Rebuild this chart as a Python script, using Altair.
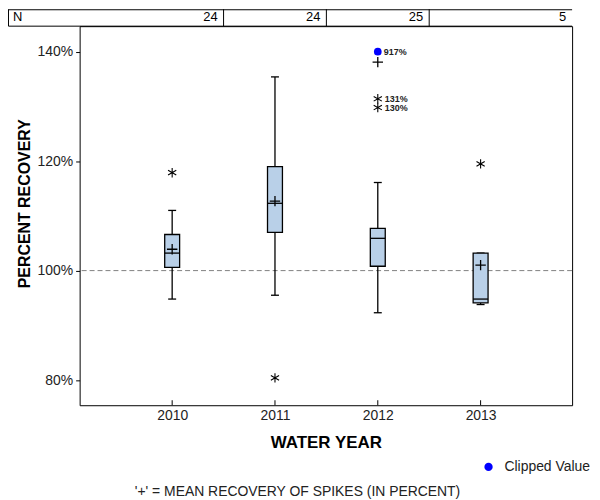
import altair as alt
import pandas as pd

# ---- data ----
years = [2010, 2011, 2012, 2013]
n_counts = [24, 24, 25, 5]
q1 = [100.6, 107.0, 100.8, 94.1]
median = [103.2, 112.3, 105.9, 94.8]
q3 = [106.6, 119.0, 107.7, 103.2]
whisk_lo = [94.8, 95.5, 92.3, 93.8]
whisk_hi = [111.0, 135.4, 116.1, 103.2]
means = [103.9, 112.7, 138.1, 101.0]

out_years = [2010, 2011, 2012, 2012, 2013]
out_values = [117.9, 80.4, 131.4, 129.8, 119.5]
out_labels = ["", "", "131%", "130%", ""]

clip_years = [2012]
clip_values = [140.0]
clip_labels = ["917%"]

y_ticks = [80, 100, 120, 140]
ref_value = [100]

XMIN, XMAX = 2009.1, 2013.89
YMIN, YMAX = 75.4, 144.67
W, H = 495, 381
FONT = "Liberation Sans"

box_df = pd.DataFrame({"year": years, "n": n_counts, "q1": q1, "median": median,
                       "q3": q3, "lo": whisk_lo, "hi": whisk_hi, "mean": means})
out_df = pd.DataFrame({"year": out_years, "v": out_values, "label": out_labels})
clip_df = pd.DataFrame({"year": clip_years, "v": clip_values, "label": clip_labels,
                        "kind": ["Clipped Value"]})
ref_df = pd.DataFrame({"v": ref_value})
cell_df = pd.DataFrame({"right": [y + 0.5 for y in years[:-1]] + [XMAX],
                        "n": [str(v) for v in n_counts]})
div_df = pd.DataFrame({"right": [y + 0.5 for y in years[:-1]]})

xscale = alt.Scale(domain=[XMIN, XMAX], nice=False, zero=False)
yscale = alt.Scale(domain=[YMIN, YMAX], nice=False, zero=False)
xaxis = alt.Axis(values=years, format="d", ticks=False, grid=False, domain=False,
                 labelFont=FONT, labelFontSize=14, labelColor="#222", labelPadding=3,
                 title="WATER YEAR", titleFont=FONT, titleFontSize=17,
                 titleFontWeight="bold", titleColor="black", titlePadding=12)
yaxis = alt.Axis(values=y_ticks, labelExpr="datum.value + '%'", grid=False, domain=False,
                 tickSize=4, tickColor="black", labelFont=FONT, labelFontSize=14,
                 labelColor="#222", labelPadding=3,
                 title="PERCENT RECOVERY", titleFont=FONT, titleFontSize=16,
                 titleFontWeight="bold", titleColor="black", titlePadding=5, titleY=178)


def X(f):
    return alt.X(f"{f}:Q", scale=xscale, axis=xaxis)


def Y(f):
    return alt.Y(f"{f}:Q", scale=yscale, axis=yaxis)


base = alt.Chart(box_df)
SW = 1.3

ref = alt.Chart(ref_df).mark_rule(color="#808080", strokeDash=[5, 3], strokeWidth=1).encode(
    y=Y("v"))

wlo = base.mark_rule(color="black", strokeWidth=SW).encode(x=X("year"), y=Y("lo"), y2="q1")
whi = base.mark_rule(color="black", strokeWidth=SW).encode(x=X("year"), y=Y("q3"), y2="hi")
cap_lo = base.mark_rule(color="black", strokeWidth=SW, xOffset=-4, x2Offset=4).encode(
    x=X("year"), x2="year", y=Y("lo"))
cap_hi = base.mark_rule(color="black", strokeWidth=SW, xOffset=-4, x2Offset=4).encode(
    x=X("year"), x2="year", y=Y("hi"))
box = base.mark_rect(fill="#b9d0e8", stroke="black", strokeWidth=SW,
                     xOffset=-7.5, x2Offset=7.5).encode(
    x=X("year"), x2="year", y=Y("q1"), y2="q3")
med = base.mark_rule(color="black", strokeWidth=SW, xOffset=-7.5, x2Offset=7.5).encode(
    x=X("year"), x2="year", y=Y("median"))
mean_pt = base.mark_point(shape="M-1,0L1,0M0,-1L0,1", size=110, color="black",
                          strokeWidth=SW, filled=False, opacity=1).encode(
    x=X("year"), y=Y("mean"))

outs = alt.Chart(out_df).mark_point(
    shape="M0,-1L0,1M-0.87,-0.5L0.87,0.5M-0.87,0.5L0.87,-0.5",
    size=90, color="black", strokeWidth=1.1, filled=False, opacity=1).encode(
    x=X("year"), y=Y("v"))
out_txt = alt.Chart(out_df).mark_text(align="left", dx=7, fontSize=9, font=FONT,
                                      fontWeight="bold", color="#222").encode(
    x=X("year"), y=Y("v"), text="label:N")

clip = alt.Chart(clip_df).mark_point(shape="circle", size=60, filled=True, opacity=1).encode(
    x=X("year"), y=Y("v"),
    color=alt.Color("kind:N", scale=alt.Scale(domain=["Clipped Value"], range=["#0000ff"]),
                    legend=alt.Legend(title=None, orient="none", legendX=404, legendY=436,
                                      labelFont=FONT, labelFontSize=14, labelColor="#222",
                                      symbolSize=70, symbolType="circle", labelOffset=9)))
clip_txt = alt.Chart(clip_df).mark_text(align="left", dx=6, fontSize=9, font=FONT,
                                        fontWeight="bold", color="#222").encode(
    x=X("year"), y=Y("v"), text="label:N")

# ---- N table above the plot ----
tbl_top = alt.Chart(ref_df).mark_rule(color="black", strokeWidth=1).encode(
    x=alt.value(-71.5), x2=alt.value(W), y=alt.value(-16.5))
tbl_left = alt.Chart(ref_df).mark_rule(color="black", strokeWidth=1).encode(
    x=alt.value(-71.5), y=alt.value(-17), y2=alt.value(0))
tbl_bottom = alt.Chart(ref_df).mark_rule(color="black", strokeWidth=1).encode(
    x=alt.value(-71.5), x2=alt.value(W), y=alt.value(0))
tbl_div = alt.Chart(div_df).mark_rule(color="black", strokeWidth=1).encode(
    x=X("right"), y=alt.value(-17), y2=alt.value(0))
tbl_n = alt.Chart(ref_df).mark_text(align="left", baseline="middle", fontSize=13, font=FONT,
                                    color="black").encode(
    x=alt.value(-67), y=alt.value(-9), text=alt.value("N"))
tbl_txt = alt.Chart(cell_df).mark_text(align="right", baseline="middle", dx=-6, fontSize=13,
                                       font=FONT, color="black").encode(
    x=X("right"), y=alt.value(-9), text="n:N")

# ---- x ticks pointing inward ----
xt = base.mark_rule(color="black", strokeWidth=1).encode(
    x=X("year"), y=alt.value(H), y2=alt.value(H - 5))

footer = alt.Chart(ref_df).mark_text(align="center", baseline="middle", fontSize=14, font=FONT,
                                     color="#222").encode(
    x=alt.value(219), y=alt.value(468),
    text=alt.value("'+' = MEAN RECOVERY OF SPIKES (IN PERCENT)"))

chart = alt.layer(
    ref, wlo, whi, cap_lo, cap_hi, box, med, mean_pt, outs, out_txt, clip, clip_txt,
    tbl_top, tbl_left, tbl_bottom, tbl_div, tbl_n, tbl_txt, xt, footer
).properties(
    width=W, height=H,
    autosize=alt.AutoSizeParams(type="none"),
    padding={"left": 72, "top": 17, "right": 20, "bottom": 94},
).configure(background="white").configure_view(stroke="black", strokeWidth=1)

chart.save("out.html", embed_options={"renderer": "svg", "actions": False})
